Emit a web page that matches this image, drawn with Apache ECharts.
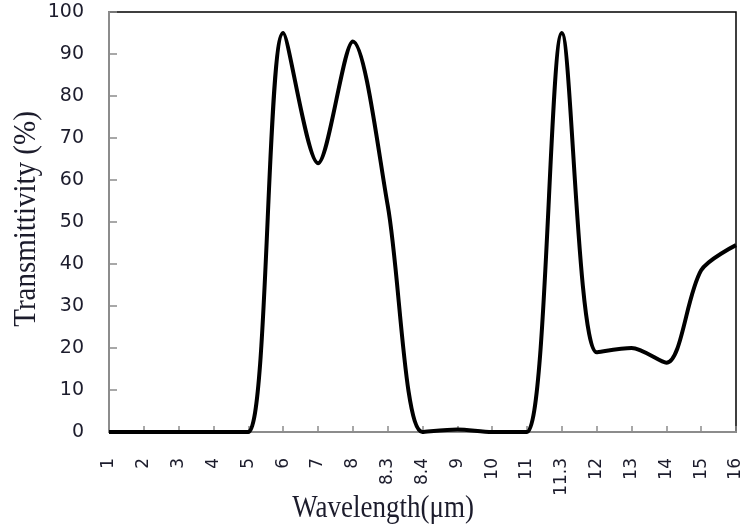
<!DOCTYPE html>
<html>
<head>
<meta charset="utf-8">
<script src="https://cdn.jsdelivr.net/npm/echarts@6/dist/echarts.min.js"></script>
<style>
  html, body { margin: 0; padding: 0; background: #fff; }
  #chart { width: 747px; height: 532px; }
</style>
</head>
<body>
<div id="chart"></div>
<script>
// Wavelength categories (µm) and measured transmittivity (%)
const wavelengths = ['1', '2', '3', '4', '5', '6', '7', '8', '8.3', '8.4', '9', '10', '11', '11.3', '12', '13', '14', '15', '16'];
const transmittivity = [0, 0, 0, 0, 0, 95, 64, 93, 54, 0, 0.6, 0, 0, 95, 19, 20, 16.5, 38.5, 44.5];
const yTicks = { min: 0, max: 100, step: 10 };

const chart = echarts.init(document.getElementById('chart'), null, { renderer: 'canvas' });

const axisGray = '#8c8c8c';
const labelFont = 'DejaVu Sans';
const titleFont = 'Liberation Serif';
const textColor = '#1c1c2c';

chart.setOption({
  animation: false,
  backgroundColor: '#fff',
  grid: {
    left: 109, right: 11, top: 12, bottom: 100,
    show: true, borderColor: '#000', borderWidth: 1.5, backgroundColor: 'transparent'
  },
  xAxis: {
    type: 'category',
    data: wavelengths,
    boundaryGap: false,
    axisLine: { show: true, lineStyle: { color: axisGray, width: 2 } },
    axisTick: { show: true, inside: true, length: 6, lineStyle: { color: axisGray, width: 1.5 } },
    axisLabel: {
      rotate: 90, margin: 26, interval: 0,
      fontFamily: labelFont, fontSize: 17, color: textColor
    },
    splitLine: { show: false }
  },
  yAxis: {
    type: 'value',
    min: yTicks.min, max: yTicks.max, interval: yTicks.step,
    axisLine: { show: true, lineStyle: { color: axisGray, width: 2 } },
    axisTick: { show: true, inside: true, length: 8, lineStyle: { color: axisGray, width: 1.5 } },
    axisLabel: { margin: 25, fontFamily: labelFont, fontSize: 19, color: textColor },
    splitLine: { show: false }
  },
  graphic: [
    {
      // horizontal axis title
      type: 'text', x: 383, y: 509, scaleY: 1.18,
      style: {
        text: 'Wavelength(μm)', x: 0, y: 0, align: 'center', verticalAlign: 'middle',
        font: '27px "' + titleFont + '"', fill: textColor
      }
    },
    {
      // vertical axis title, reading bottom to top
      type: 'text', rotation: Math.PI / 2, x: 26, y: 219, scaleY: 1.12,
      style: {
        text: 'Transmittivity (%)', x: 0, y: 0, align: 'center', verticalAlign: 'middle',
        font: '29px "' + titleFont + '"', fill: textColor
      }
    }
  ],
  series: [{
    type: 'line',
    data: transmittivity,
    smooth: 0.3,
    showSymbol: false,
    clip: true,
    lineStyle: { color: '#000', width: 4 }
  }]
});
</script>
</body>
</html>
